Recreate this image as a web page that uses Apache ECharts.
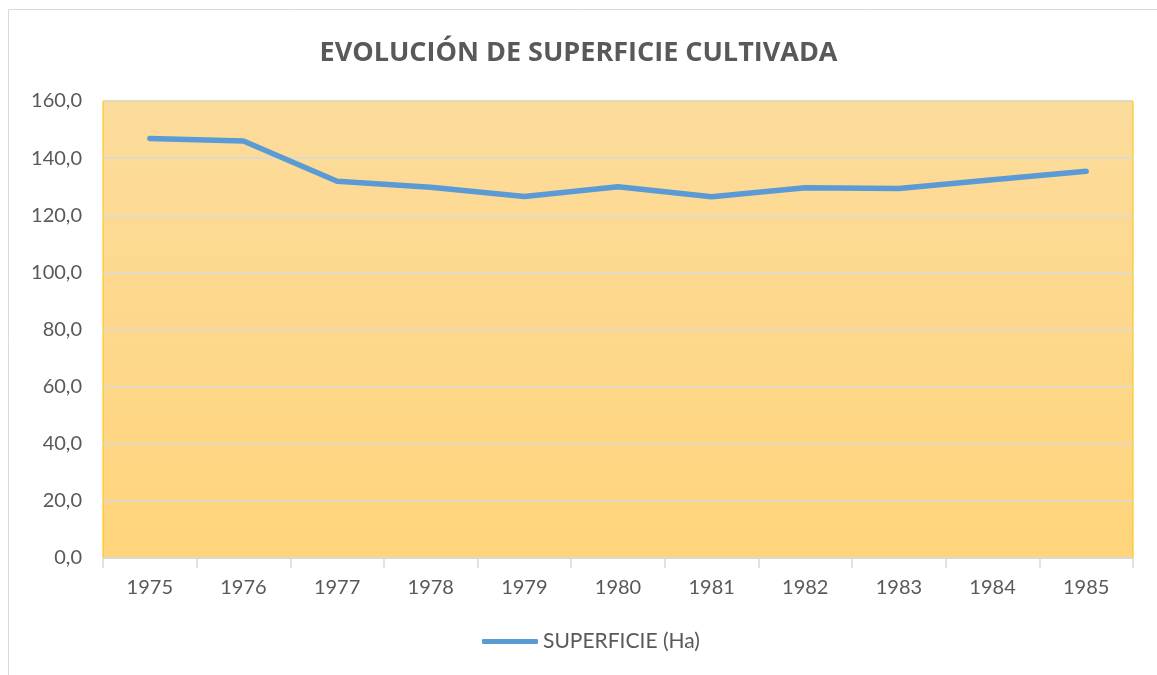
<!DOCTYPE html>
<html>
<head>
<meta charset="utf-8">
<script src="https://cdn.jsdelivr.net/npm/echarts@6/dist/echarts.min.js"></script>
<style>
  html, body { margin: 0; padding: 0; background: #fff; }
  #chart { width: 1157px; height: 675px; }
</style>
</head>
<body>
<div id="chart"></div>
<script>
// datos
const years = ['1975', '1976', '1977', '1978', '1979', '1980', '1981', '1982', '1983', '1984', '1985']
const superficie = [146.9, 146.0, 131.9, 129.8, 126.6, 130.0, 126.5, 129.6, 129.4, 132.4, 135.4]
const seriesName = 'SUPERFICIE (Ha)'
const titleText = 'EVOLUCIÓN DE SUPERFICIE CULTIVADA'

const labelFont = 'Lato, Noto Sans, sans-serif'

const option = {
  backgroundColor: '#fff',
  animation: false,
  title: {
    text: titleText,
    left: 'center',
    top: 35,
    textStyle: {
      color: '#595959',
      fontFamily: 'Open Sans, Noto Sans, sans-serif',
      fontWeight: 'bold',
      fontSize: 27
    }
  },
  graphic: [{
    type: 'rect',
    shape: { x: 8.5, y: 9.5, width: 1170, height: 700 },
    style: { fill: 'none', stroke: '#d9d9d9', lineWidth: 1 },
    silent: true,
    z: -1
  }],
  legend: {
    bottom: 18,
    left: 477,
    itemWidth: 56,
    itemHeight: 5,
    itemGap: 4,
    icon: 'roundRect',
    textStyle: {
      color: '#595959',
      fontFamily: labelFont,
      fontSize: 21
    },
    data: [seriesName]
  },
  grid: {
    left: 103,
    right: 24,
    top: 101,
    bottom: 117,
    show: true,
    borderColor: '#FFC000',
    borderWidth: 1,
    backgroundColor: {
      type: 'linear',
      x: 0, y: 0, x2: 0, y2: 1,
      colorStops: [
        { offset: 0, color: '#FCDC9C' },
        { offset: 1, color: '#FFD47B' }
      ]
    }
  },
  xAxis: {
    type: 'category',
    data: years,
    boundaryGap: true,
    axisLine: { show: true, lineStyle: { color: '#d9d9d9', width: 1.5 } },
    axisTick: { show: true, length: 10, lineStyle: { color: '#d9d9d9', width: 1.5 } },
    axisLabel: {
      color: '#595959',
      fontFamily: labelFont,
      fontSize: 20,
      margin: 20
    },
    splitLine: { show: false }
  },
  yAxis: {
    type: 'value',
    min: 0,
    max: 160,
    interval: 20,
    axisLine: { show: false },
    axisTick: { show: false },
    axisLabel: {
      color: '#595959',
      fontFamily: labelFont,
      fontSize: 20,
      margin: 21,
      formatter: v => v.toFixed(1).replace('.', ',')
    },
    splitLine: { show: true, lineStyle: { color: '#d9d9d9', width: 1.5 } }
  },
  series: [{
    name: seriesName,
    type: 'line',
    data: superficie,
    symbol: 'none',
    showSymbol: false,
    lineStyle: { color: '#5B9BD5', width: 5.5, cap: 'round', join: 'round' },
    itemStyle: { color: '#5B9BD5' }
  }]
}

const myChart = echarts.init(document.getElementById('chart'))
myChart.setOption(option)
</script>
</body>
</html>
